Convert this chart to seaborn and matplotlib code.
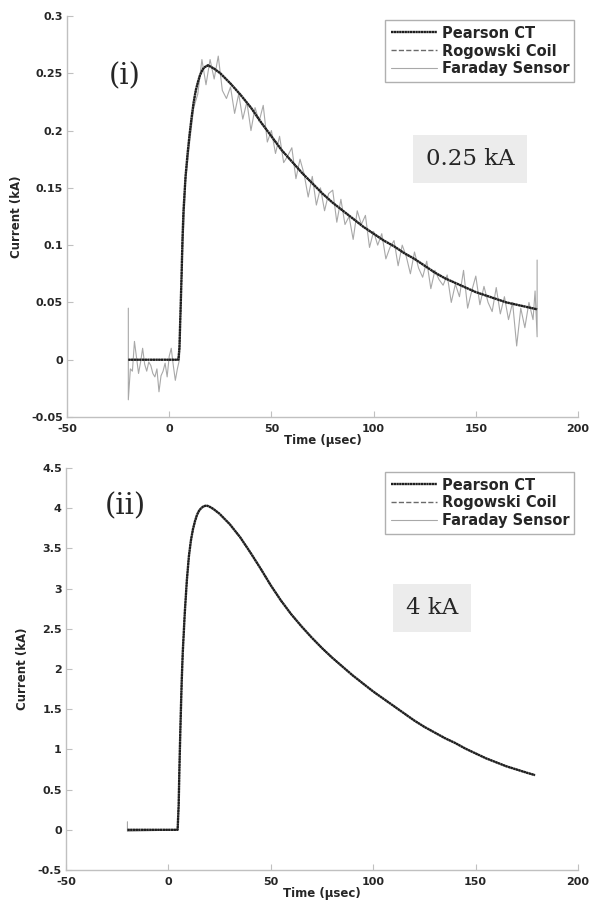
import matplotlib
matplotlib.use("Agg")
import matplotlib.pyplot as plt
import seaborn as sns

# (i) 0.25 kA shot: smooth sensors (Pearson CT / Rogowski coil overlap)
t_low = [-20, 4.5, 5, 5.5, 6, 6.5, 7, 8, 9, 10, 11, 12, 13, 14, 15, 16, 17, 18, 19,
         20, 22, 25, 30, 35, 40, 45, 50, 55, 60, 65, 70, 75, 80, 85, 90, 95, 100,
         105, 110, 115, 120, 125, 130, 135, 140, 145, 150, 155, 160, 165, 170, 175, 180]
pearson_low = [0, 0, 0.01, 0.04, 0.07, 0.105, 0.13, 0.16, 0.18, 0.197, 0.212, 0.225,
               0.235, 0.242, 0.248, 0.252, 0.255, 0.256, 0.257, 0.256, 0.254, 0.250,
               0.241, 0.231, 0.220, 0.207, 0.195, 0.183, 0.173, 0.163, 0.154, 0.145,
               0.137, 0.130, 0.123, 0.116, 0.110, 0.104, 0.099, 0.093, 0.088, 0.082,
               0.076, 0.071, 0.067, 0.063, 0.059, 0.056, 0.053, 0.050, 0.048, 0.046, 0.044]
rogowski_low = pearson_low

# Faraday sensor (noisy) for the 0.25 kA shot
t_far_low = [-20, -20, -19, -18, -17, -16, -15, -14, -13, -12, -11, -10, -9, -8, -7,
             -6, -5, -4, -3, -2, -1, 0, 1, 2, 3, 4, 5, 6, 8, 10, 12, 14, 16, 18, 20,
             22, 24, 26, 28, 30, 32, 34, 36, 38, 40, 42, 44, 46, 48, 50, 52, 54, 56,
             58, 60, 62, 64, 66, 68, 70, 72, 74, 76, 78, 80, 82, 84, 86, 88, 90, 92,
             94, 96, 98, 100, 102, 104, 106, 108, 110, 112, 114, 116, 118, 120, 122,
             124, 126, 128, 130, 132, 134, 136, 138, 140, 142, 144, 146, 148, 150,
             152, 154, 156, 158, 160, 162, 164, 166, 168, 170, 172, 174, 176, 178,
             179, 180, 180]
faraday_low = [0.045, -0.035, -0.008, -0.01, 0.016, 0.002, -0.012, -0.002, 0.01,
               -0.004, -0.01, -0.002, -0.005, -0.012, -0.015, -0.008, -0.028, -0.014,
               -0.01, -0.003, -0.015, 0.003, 0.01, -0.005, -0.018, -0.008, 0.0, 0.07,
               0.155, 0.19, 0.22, 0.232, 0.262, 0.24, 0.262, 0.245, 0.265, 0.235,
               0.228, 0.238, 0.215, 0.232, 0.21, 0.225, 0.2, 0.22, 0.208, 0.222, 0.19,
               0.2, 0.18, 0.195, 0.172, 0.178, 0.185, 0.158, 0.175, 0.162, 0.142, 0.16,
               0.135, 0.15, 0.13, 0.145, 0.148, 0.12, 0.14, 0.118, 0.125, 0.105, 0.13,
               0.118, 0.126, 0.098, 0.112, 0.1, 0.11, 0.088, 0.098, 0.104, 0.082, 0.1,
               0.09, 0.075, 0.094, 0.08, 0.072, 0.086, 0.062, 0.078, 0.07, 0.065,
               0.074, 0.05, 0.066, 0.055, 0.078, 0.045, 0.06, 0.073, 0.048, 0.064,
               0.05, 0.042, 0.063, 0.04, 0.055, 0.035, 0.05, 0.012, 0.045, 0.028,
               0.05, 0.035, 0.06, 0.02, 0.087]

# (ii) 4 kA shot: all three sensors overlap
t_high = [-20, 4.5, 5, 5.5, 6, 6.5, 7, 8, 9, 10, 11, 12, 13, 14, 15, 16, 17, 18, 19,
          20, 22, 25, 30, 35, 40, 45, 50, 55, 60, 65, 70, 75, 80, 85, 90, 95, 100,
          105, 110, 115, 120, 125, 130, 135, 140, 145, 150, 155, 160, 165, 170, 175, 179]
pearson_high = [0, 0, 0.3, 0.9, 1.4, 1.85, 2.2, 2.7, 3.1, 3.4, 3.6, 3.74, 3.84, 3.92,
                3.97, 4.0, 4.02, 4.03, 4.03, 4.02, 3.99, 3.93, 3.80, 3.64, 3.45, 3.25,
                3.04, 2.85, 2.68, 2.53, 2.39, 2.26, 2.14, 2.03, 1.92, 1.82, 1.72, 1.63,
                1.54, 1.45, 1.36, 1.28, 1.21, 1.14, 1.08, 1.01, 0.95, 0.89, 0.84, 0.79,
                0.75, 0.71, 0.68]
rogowski_high = pearson_high
t_far_high = [-20, -20] + t_high[1:]
faraday_high = [0.1, -0.02] + pearson_high[1:]

sns.set_style("white")
plt.rcParams["font.family"] = ["DejaVu Sans"]

fig = plt.figure(figsize=(5.9, 9.07), dpi=100)
ax1 = fig.add_axes([67 / 590, 1 - 417 / 907, 511 / 590, 401 / 907])
ax2 = fig.add_axes([66 / 590, 1 - 870 / 907, 512 / 590, 402 / 907])

panels = [
    (ax1, t_low, pearson_low, rogowski_low, t_far_low, faraday_low,
     (-0.05, 0.3), [-0.05, 0, 0.05, 0.1, 0.15, 0.2, 0.25, 0.3]),
    (ax2, t_high, pearson_high, rogowski_high, t_far_high, faraday_high,
     (-0.5, 4.5), [-0.5, 0, 0.5, 1, 1.5, 2, 2.5, 3, 3.5, 4, 4.5]),
]

for ax, t, pear, rog, tf, far, ylim, yticks in panels:
    sns.lineplot(x=tf, y=far, ax=ax, estimator=None, sort=False,
                 color="#a8a8a8", lw=0.8, label="Faraday Sensor")
    sns.lineplot(x=t, y=rog, ax=ax, estimator=None, sort=False,
                 color="#6a6a6a", lw=1.0, linestyle="--", label="Rogowski Coil")
    sns.lineplot(x=t, y=pear, ax=ax, estimator=None, sort=False,
                 color="#1e1e1e", lw=1.7, linestyle=(0, (1, 0.15)), label="Pearson CT")

    ax.set_xlim(-50, 200)
    ax.set_ylim(*ylim)
    ax.set_xticks([-50, 0, 50, 100, 150, 200])
    ax.set_yticks(yticks)
    ax.set_xticklabels([f"{v:g}" for v in [-50, 0, 50, 100, 150, 200]],
                       fontweight="bold", fontsize=8)
    ax.set_yticklabels([f"{v:g}" for v in yticks], fontweight="bold", fontsize=8)
    ax.tick_params(direction="in", length=4, width=0.8, color="#c0c0c0",
                   left=True, bottom=True)
    ax.tick_params(axis="x", pad=5)
    ax.tick_params(axis="y", pad=3)
    for side in ["top", "right"]:
        ax.spines[side].set_visible(False)
    for side in ["left", "bottom"]:
        ax.spines[side].set_color("#c0c0c0")
        ax.spines[side].set_linewidth(1.0)
    ax.set_xlabel("Time (\u03bcsec)", fontweight="bold", fontsize=8.5, labelpad=0)
    ax.set_ylabel("Current (kA)", fontweight="bold", fontsize=8.5, labelpad=6)

    handles, labels = ax.get_legend_handles_labels()
    ax.legend(handles[::-1], labels[::-1], loc="upper right",
              bbox_to_anchor=(1.007, 1.007), frameon=True, fancybox=False,
              edgecolor="#b0b0b0", framealpha=1, borderpad=0.35,
              handlelength=3.2, handletextpad=0.3, labelspacing=0.2,
              prop={"weight": "bold", "size": 10.5})

fig.text(125 / 590, 1 - 76 / 907, "(i)", family="DejaVu Serif", fontsize=21,
         ha="center", va="center")
fig.text(125 / 590, 1 - 506 / 907, "(ii)", family="DejaVu Serif", fontsize=21,
         ha="center", va="center")
fig.text(470 / 590, 1 - 159 / 907, "0.25 kA", family="DejaVu Serif", fontsize=16.5,
         ha="center", va="center",
         bbox=dict(boxstyle="square,pad=0.55", fc="#ececec", ec="none"))
fig.text(432 / 590, 1 - 608 / 907, "4 kA", family="DejaVu Serif", fontsize=16.5,
         ha="center", va="center",
         bbox=dict(boxstyle="square,pad=0.55", fc="#ececec", ec="none"))

fig.savefig("out.png", dpi=100)
